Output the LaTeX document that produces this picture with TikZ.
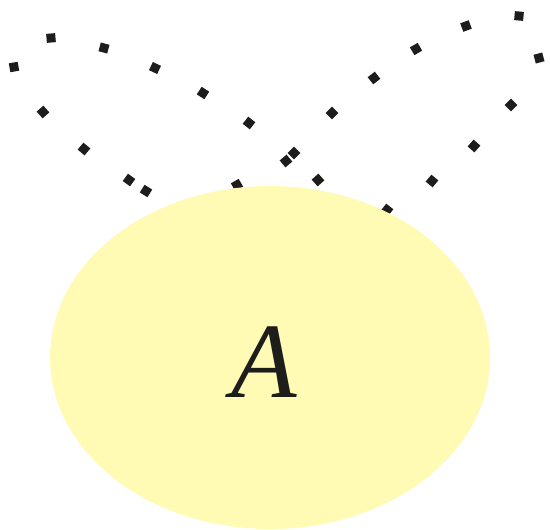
\documentclass[tikz,border=0pt]{standalone}
\usepackage{fontspec}
\setmainfont{Liberation Serif}
\definecolor{setyellow}{HTML}{FFFBB5}
\definecolor{dotblack}{HTML}{1D1D1B}
\tikzset{sq/.style={fill=dotblack}}

\begin{document}
\begin{tikzpicture}[x=0.02cm,y=-0.02cm]
  \useasboundingbox (0,0) rectangle (550,529);
  % left loop
  \foreach \x/\y/\r in {146/191/-32,129/180/-36,84/149/-40,43/112/-48,14/67/-80,51/38/5,104/48/-15,155/68/-25,203/93/-33,249/123/-38,294/153/-45,318/180/-48}{
    \fill[sq,rotate around={\r:(\x,\y)}] (\x-4.5,\y-4.5) rectangle (\x+4.5,\y+4.5);}
  % right loop
  \foreach \x/\y/\r in {237/185/30,286/161/40,332/113/45,374/78/38,416/49/30,466/26/20,519/16/-5,539/58/-75,511/105/-45,474/146/-42,432/181/-40,387/210/-38}{
    \fill[sq,rotate around={\r:(\x,\y)}] (\x-4.5,\y-4.5) rectangle (\x+4.5,\y+4.5);}

  \fill[setyellow] (270,357.5) ellipse [x radius=220,y radius=171.5];
  \node[text=dotblack,inner sep=0pt] (A) at (264,362) {\fontsize{61}{61}\selectfont\itshape A};
\end{tikzpicture}
\end{document}
